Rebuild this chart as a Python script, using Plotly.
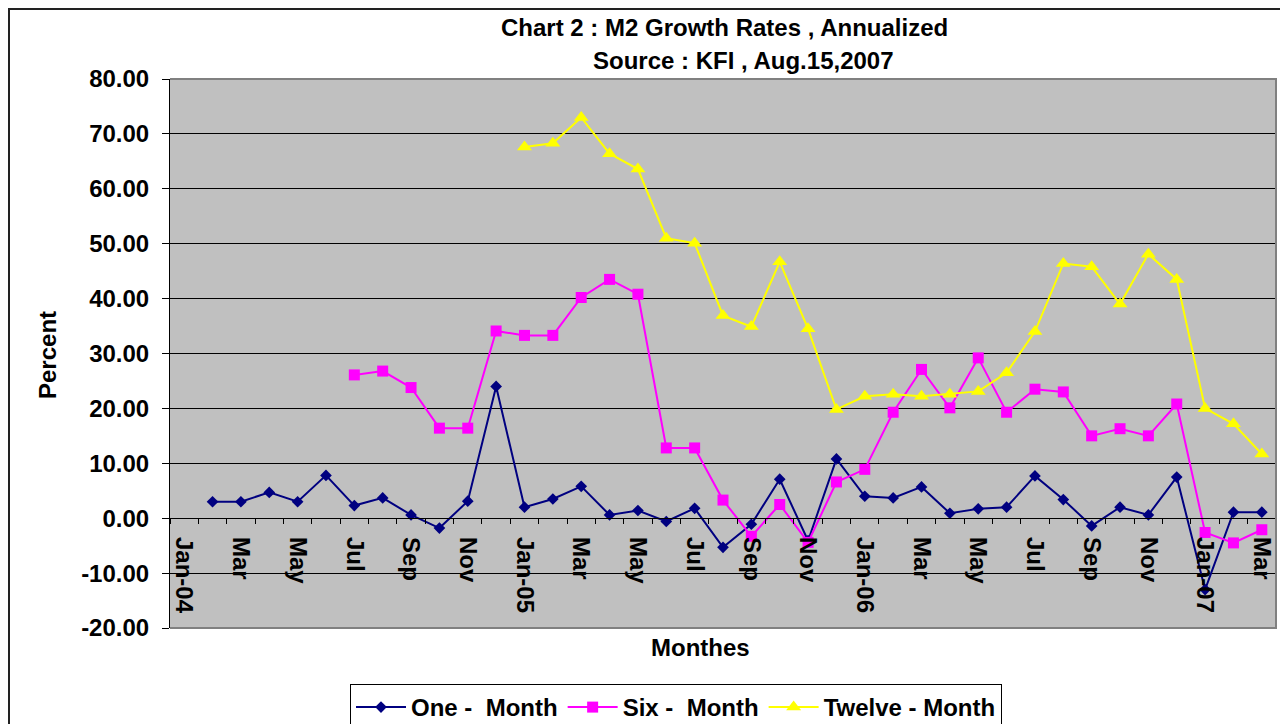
import plotly.graph_objects as go

# ---- data ----
months = ["Jan-04","Feb-04","Mar-04","Apr-04","May-04","Jun-04","Jul-04","Aug-04","Sep-04","Oct-04","Nov-04","Dec-04",
          "Jan-05","Feb-05","Mar-05","Apr-05","May-05","Jun-05","Jul-05","Aug-05","Sep-05","Oct-05","Nov-05","Dec-05",
          "Jan-06","Feb-06","Mar-06","Apr-06","May-06","Jun-06","Jul-06","Aug-06","Sep-06","Oct-06","Nov-06","Dec-06",
          "Jan-07","Feb-07","Mar-07"]

one_month = [None, 3.0, 3.0, 4.7, 3.0, 7.8, 2.3, 3.7, 0.6, -1.8, 3.1, 24.0,
             2.0, 3.5, 5.8, 0.6, 1.4, -0.6, 1.8, -5.3, -1.1, 7.1, -4.1, 10.8,
             4.0, 3.7, 5.7, 0.9, 1.7, 2.0, 7.7, 3.4, -1.4, 2.0, 0.6, 7.5,
             -13.0, 1.1, 1.1]

six_month = [None, None, None, None, None, None, 26.1, 26.8, 23.8, 16.4, 16.4, 34.1,
             33.3, 33.3, 40.2, 43.5, 40.8, 12.8, 12.8, 3.3, -3.3, 2.5, -4.4, 6.6,
             8.9, 19.3, 27.1, 20.1, 29.2, 19.3, 23.5, 23.0, 15.0, 16.3, 15.0, 20.8,
             -2.6, -4.5, -2.1]

twelve_month = [None]*12 + [67.6, 68.3, 73.0, 66.4, 63.6, 51.0, 50.1, 36.9, 34.9, 46.7, 34.5, 19.8,
                            22.2, 22.6, 22.2, 22.6, 23.1, 26.5, 34.0, 46.4, 45.8, 39.0, 48.1, 43.5,
                            20.0, 17.2, 11.7]

x_tick_labels = ["Jan-04","Mar","May","Jul","Sep","Nov","Jan-05","Mar","May","Jul","Sep","Nov",
                 "Jan-06","Mar","May","Jul","Sep","Nov","Jan-07","Mar"]
y_tick_values = [-20, -10, 0, 10, 20, 30, 40, 50, 60, 70, 80]
y_tick_labels = ["-20.00","-10.00","0.00","10.00","20.00","30.00","40.00","50.00","60.00","70.00","80.00"]

series_names = ["One -\u00a0 Month", "Six -\u00a0 Month", "Twelve - Month"]

x = list(range(len(months)))
FONT = "Liberation Sans, Arial, sans-serif"
FS = 24

fig = go.Figure()
fig.add_trace(go.Scatter(x=x, y=one_month, name=series_names[0], mode="lines+markers",
                         line=dict(color="#000080", width=2),
                         marker=dict(symbol="diamond", size=9, color="#000080"),
                         customdata=months))
fig.add_trace(go.Scatter(x=x, y=six_month, name=series_names[1], mode="lines+markers",
                         line=dict(color="#FF00FF", width=2),
                         marker=dict(symbol="square", size=11, color="#FF00FF"),
                         customdata=months))
fig.add_trace(go.Scatter(x=x, y=twelve_month, name=series_names[2], mode="lines+markers",
                         line=dict(color="#FFFF00", width=2),
                         marker=dict(symbol="triangle-up", size=13, color="#FFFF00"),
                         customdata=months))

# page body has an 8px margin; work in screen pixels and convert
OFF = 8
W, H = 1288 - OFF, 724 - OFF
PL, PR, PT, PB = 170, 1276, 79, 628          # plot area on screen
L, R, T, B = PL - OFF, (W + OFF) - PR, PT - OFF, (H + OFF) - PB
pw = PR - PL
ph = PB - PT

def px_x(v):
    return (v - PL) / pw

def px_y(v):
    return (PB - v) / ph

bold = dict(family=FONT, size=FS, color="black", weight="bold")

fig.update_layout(
    width=W, height=H,
    margin=dict(l=L, r=R, t=T, b=B, autoexpand=False),
    paper_bgcolor="white",
    plot_bgcolor="#C0C0C0",
    font=bold,
    showlegend=True,
    legend=dict(orientation="h", x=px_x(350), y=px_y(684), xanchor="left", yanchor="top",
                bgcolor="white", bordercolor="black", borderwidth=1,
                font=bold, itemwidth=50, tracegroupgap=0),
    xaxis=dict(
        range=[-0.5, len(months) - 0.5],
        anchor="free", position=0.2,
        showgrid=False, zeroline=False,
        showline=True, linecolor="black", linewidth=1,
        tickmode="array", tickvals=x[::2], ticktext=x_tick_labels,
        tickangle=90,
        ticks="outside", ticklen=6, tickcolor="rgba(0,0,0,0)",
        ticklabelstandoff=7,
        tickfont=bold,
        minor=dict(ticks="outside", tickmode="linear", tick0=0.5, dtick=1, ticklen=5,
                   tickcolor="black", tickwidth=1, showgrid=False),
    ),
    yaxis=dict(
        range=[-20, 80],
        tickmode="array", tickvals=y_tick_values, ticktext=y_tick_labels,
        showgrid=True, gridcolor="black", gridwidth=1,
        zeroline=False,
        showline=True, linecolor="black", linewidth=1,
        ticks="outside", ticklen=7, tickcolor="black",
        ticklabelstandoff=8,
        tickfont=bold,
    ),
    shapes=[
        dict(type="path", xref="paper", yref="paper", path="M 0,1 L 1,1 L 1,0 L 0,0",
             line=dict(color="#808080", width=2), layer="above"),
        dict(type="rect", xref="paper", yref="paper",
             x0=px_x(OFF + 1), x1=1.2, y0=-0.3, y1=px_y(OFF + 1),
             line=dict(color="#222222", width=2), layer="below"),
    ],
    annotations=[
        dict(text="Chart 2 : M2 Growth Rates , Annualized", xref="paper", yref="paper",
             x=px_x(724), y=px_y(28), xanchor="center", yanchor="middle", showarrow=False,
             font=bold),
        dict(text="Source : KFI , Aug.15,2007", xref="paper", yref="paper",
             x=px_x(743), y=px_y(60), xanchor="center", yanchor="middle", showarrow=False,
             font=bold),
        dict(text="Percent", xref="paper", yref="paper", textangle=-90,
             x=px_x(47), y=px_y(355), xanchor="center", yanchor="middle", showarrow=False,
             font=bold),
        dict(text="Monthes", xref="paper", yref="paper",
             x=px_x(700), y=px_y(648), xanchor="center", yanchor="middle", showarrow=False,
             font=bold),
    ],
)

fig.write_html("out.html")
